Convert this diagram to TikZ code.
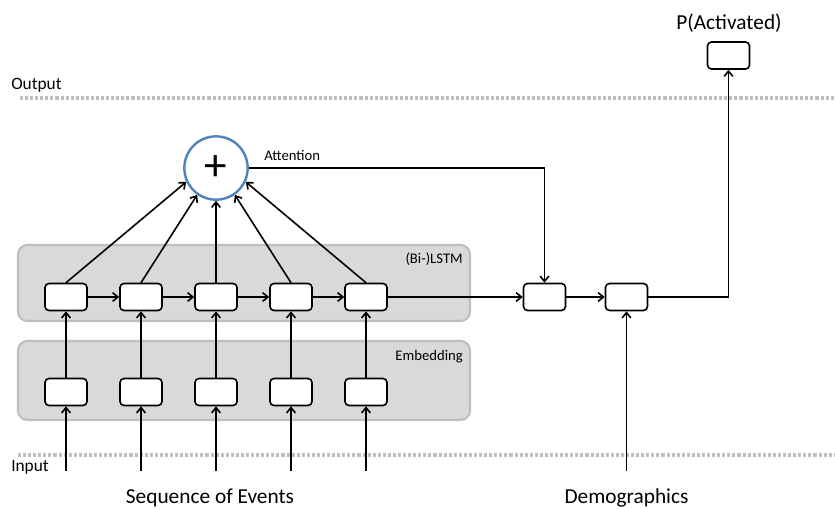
\documentclass[tikz,border=0pt]{standalone}
\usepackage{fontspec}
\setmainfont{Carlito}
\usepackage{tikz}
\usetikzlibrary{arrows.meta}

\definecolor{attblue}{RGB}{79,129,189}

\begin{document}
\begin{tikzpicture}[x=0.75pt, y=-0.75pt, every node/.style={font=\fontsize{11}{13}\selectfont, inner sep=0pt},
			cell/.style={draw, line width=1.2pt, rounded corners=3pt, fill=white,
				minimum width=31.5pt, minimum height=20.25pt},
			layer/.style={draw=black!25, line width=1.6pt, fill=black!15, rounded corners=7pt,
				minimum width=339pt},
			ed/.style={-{Straight Barb[length=4pt, width=6.5pt]}, line width=1.2pt},
			sep/.style={draw=black!25, line width=2.4pt, dash pattern=on 2.3pt off 1.5pt},
			side/.style={font=\fontsize{13}{15}\selectfont},
			big/.style={font=\fontsize{16}{19}\selectfont}]
			\useasboundingbox (0,0) rectangle (835,508);
			% layers
			\node[layer, minimum height=57pt]    (lstm) at (244,283)   {};
			\node[layer, minimum height=59.25pt] (emb)  at (244,380.5) {};
			\node[anchor=base east] (lstmlab) at (463,263) {(Bi-)LSTM};
			\node[anchor=base east] (emblab)  at (463,360) {Embedding};
			% input / output separators
			\coordinate (o1) at (20,98);  \coordinate (o2) at (835,98);
			\coordinate (i1) at (18,455); \coordinate (i2) at (835,455);
			\draw[sep] (o1) -- (o2);
			\draw[sep] (i1) -- (i2);
			\node[side, anchor=base west] (outlab) at (11,89)  {Output};
			\node[side, anchor=base west] (inlab)  at (11,471) {Input};
			\node[big, anchor=base] (seqlab)  at (210,503)   {Sequence of Events};
			\node[big, anchor=base] (demolab) at (626.5,503) {Demographics};
			\node[big, anchor=base] (plab)    at (729,29)    {P(Activated)};
			% cells
			\foreach \i in {1,...,5} {
				\node[cell] (l\i) at ({66+75*(\i-1)},297) {};
				\node[cell] (m\i) at ({66+75*(\i-1)},392) {};
				\coordinate (in\i) at ({66+75*(\i-1)},471);
			}
			\node[cell] (cat)   at (544.5,297) {};
			\node[cell] (dense) at (626.5,297) {};
			\node[cell] (out)   at (728.5,55.5) {};
			\coordinate (demo) at (626.5,471);
			\node[circle, draw=attblue, line width=1.8pt, fill=white, minimum size=47.5pt,
				font=\fontsize{34}{34}\selectfont] (att) at (216,168) {+};
			\node[anchor=base west] (attlab) at (264,160) {Attention};
			% connectors
			\foreach \i in {1,...,5} {
				\draw[ed] (in\i) -- (m\i);
				\draw[ed] (m\i) -- (l\i);
			}
			\foreach \x/\y in {l1/l2, l2/l3, l3/l4, l4/l5, l5/cat, cat/dense, demo/dense}
				\draw[ed] (\x) -- (\y);
			\foreach \c/\a in {l1/205, l2/235, l3/270, l4/305, l5/335}
				\draw[ed] (\c.north) -- (att.\a);
			\draw[ed] (att.east) -| (cat.north);
			\draw[ed] (dense.east) -| (out.south);
		\end{tikzpicture}
\end{document}
